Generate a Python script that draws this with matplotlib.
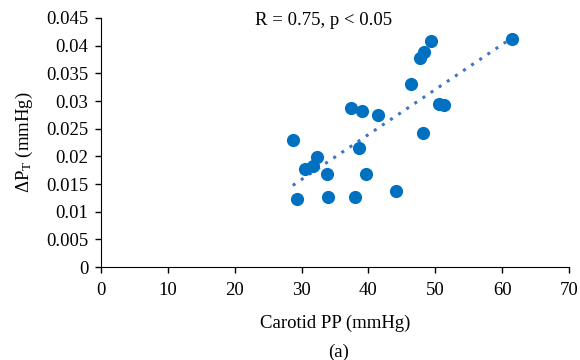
import numpy as np
import matplotlib
matplotlib.use("Agg")
import matplotlib.pyplot as plt

# ==== Daten ====
carotid_pp = [28.7, 29.25, 30.5, 31.7, 32.3, 33.8, 33.9, 37.4, 38.0, 38.6, 39.05,
              39.6, 41.5, 44.2, 46.4, 47.7, 48.3, 48.2, 49.3, 50.6, 51.3, 61.5]
delta_pt = [0.0230, 0.01235, 0.0177, 0.0183, 0.0199, 0.01675, 0.01265, 0.0288, 0.0126,
            0.02145, 0.02825, 0.0168, 0.0275, 0.0138, 0.0330, 0.0378, 0.0389, 0.0242,
            0.0409, 0.0294, 0.0293, 0.04115]
x_ticks = [0, 10, 20, 30, 40, 50, 60, 70]
y_ticks = [0, 0.005, 0.01, 0.015, 0.02, 0.025, 0.03, 0.035, 0.04, 0.045]
y_ticklabels = ["0", "0.005", "0.01", "0.015", "0.02", "0.025", "0.03", "0.035", "0.04", "0.045"]

plt.rcParams["font.family"] = ["Liberation Serif", "DejaVu Serif"]
plt.rcParams["font.size"] = 13.5
plt.rcParams["mathtext.fontset"] = "custom"
plt.rcParams["mathtext.rm"] = "Liberation Serif"

fig = plt.figure(figsize=(5.8, 3.6), dpi=100)
ax = fig.add_axes([0.174, 0.258, 0.807, 0.692])

ax.scatter(carotid_pp, delta_pt, s=90, color="#0070C0", zorder=3, linewidths=0)

# lineare Trendlinie
k, d = np.polyfit(carotid_pp, delta_pt, 1)
xs = np.array([min(carotid_pp), max(carotid_pp)])
ax.plot(xs, k * xs + d, linestyle=(0, (1, 2.2)), color="#4472C4", linewidth=2.2, zorder=2)

ax.set_xlim(0, 70)
ax.set_ylim(0, 0.045)
ax.set_xticks(x_ticks)
ax.set_yticks(y_ticks)
ax.set_yticklabels(y_ticklabels)
ax.spines["top"].set_visible(False)
ax.spines["right"].set_visible(False)
ax.tick_params(direction="out", length=4, width=1, color="black", pad=5)
ax.tick_params(axis="x", pad=7)

ax.set_xlabel("Carotid PP (mmHg)", labelpad=11)
ax.set_ylabel(r"$\mathrm{\Delta P_T}$ (mmHg)", labelpad=8)
ax.text(23.0, 0.0446, "R = 0.75, p < 0.05", ha="left", va="center")
fig.text(0.583, 0.022, "(a)", ha="center", va="center")

fig.savefig("out.png", dpi=100)
